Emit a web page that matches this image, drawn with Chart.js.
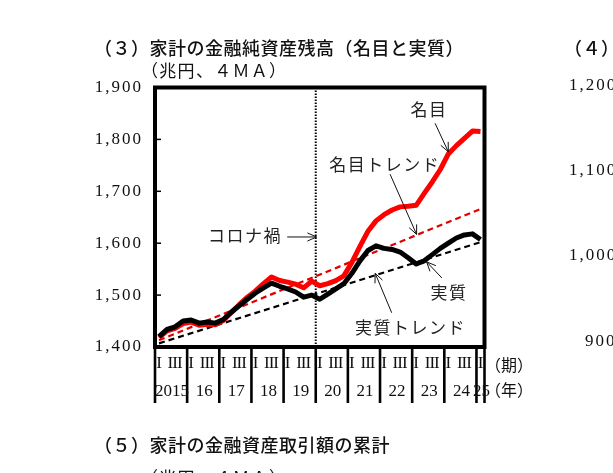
<!DOCTYPE html>
<html><head><meta charset="utf-8">
<script src="https://cdn.jsdelivr.net/npm/chart.js@4"></script>
<style>html,body{margin:0;padding:0;background:#fff;overflow:hidden}canvas{display:block}</style>
</head><body>
<canvas id="c" width="613" height="473"></canvas>
<script>
// ---- data ----
const years = ['2015','2016','2017','2018','2019','2020','2021','2022','2023','2024','2025'];
const yearLabels = ['2015','16','17','18','19','20','21','22','23','24','25'];
const quarterNames = ['Q1','Q2','Q3','Q4'];
const quarterTickLabels = ['I','','III',''];
const nQuarters = 41; // 2015Q1 - 2025Q1
const categories = [];
years.forEach(yr => quarterNames.forEach(q => { if (categories.length < nQuarters) categories.push(yr + q); }));

const nominal = [1418,1431,1436,1445,1448,1442,1444,1443,1451,1467,1482,1496,1508,1522,1535,1528,1525,1521,1514,1527,
                 1518,1522,1528,1537,1563,1594,1623,1643,1655,1664,1670,1671,1673,1696,1718,1742,1772,1788,1802,1816,1815];
const real    = [1420,1434,1439,1450,1452,1446,1448,1446,1453,1467,1480,1492,1504,1514,1523,1517,1512,1506,1496,1500,
                 1492,1502,1512,1522,1542,1566,1586,1595,1590,1588,1583,1572,1560,1566,1578,1590,1600,1610,1616,1618,1607];
const nominalTrendEnds = [1413, 1666];
const realTrendEnds    = [1407, 1602];
const yTicks = {min:1400, max:1900, step:100};
const coronaStart = '2020Q1';

// annotations in data space: [text, textIdx, textVal, fromIdx, fromVal, toIdx, toVal]
const notes = [
  ['名目',        33.5, 1857, 34.35, 1831, 36.0, 1776],
  ['名目トレンド', 28.0, 1752, 28.75, 1733, 32.05, 1617],
  ['コロナ禍',    10.6, 1614, 15.95, 1612, 19.6, 1612],
  ['実質',        36.0, 1504, 35.2, 1533, 33.3, 1564],
  ['実質トレンド', 31.2, 1438, 28.95, 1466, 26.9, 1542]
];

const CJK = '"Noto Sans CJK JP", sans-serif';
const SERIF = '"Liberation Serif", "DejaVu Serif", serif';

function arrow(ctx, x1, y1, x2, y2) {
  ctx.beginPath(); ctx.moveTo(x1, y1); ctx.lineTo(x2, y2); ctx.stroke();
  const ang = Math.atan2(y2 - y1, x2 - x1), L = 10, s = 0.42;
  ctx.beginPath();
  ctx.moveTo(x2 - L * Math.cos(ang - s), y2 - L * Math.sin(ang - s));
  ctx.lineTo(x2, y2);
  ctx.lineTo(x2 - L * Math.cos(ang + s), y2 - L * Math.sin(ang + s));
  ctx.stroke();
}

const deco = {
  id: 'deco',
  beforeDraw(chart) { chart.ctx.letterSpacing = '2px'; },
  beforeDatasetsDraw(chart) {
    const {ctx, chartArea: a, scales: {x}} = chart;
    ctx.letterSpacing = '0px';
    const ci = categories.indexOf(coronaStart);
    const w = x.getPixelForValue(1) - x.getPixelForValue(0);
    const cx = x.getPixelForValue(ci) - w / 2;
    ctx.save();
    ctx.strokeStyle = '#000'; ctx.lineWidth = 2; ctx.setLineDash([1.5, 1.5]);
    ctx.beginPath(); ctx.moveTo(cx, a.top); ctx.lineTo(cx, a.bottom); ctx.stroke();
    ctx.restore();
  },
  afterDraw(chart) {
    const {ctx, chartArea: a, scales: {x, y}} = chart;
    const px = i => x.getPixelForValue(i);
    const py = v => y.getPixelForValue(v);
    const w = px(1) - px(0);
    ctx.save();
    ctx.letterSpacing = '0px';
    ctx.strokeStyle = '#000'; ctx.fillStyle = '#111';
    // inner tick marks
    ctx.lineWidth = 1.5;
    y.ticks.forEach(t => {
      if (t.value > y.min && t.value < y.max) {
        const yy = py(t.value);
        ctx.beginPath(); ctx.moveTo(a.left, yy); ctx.lineTo(a.left + 6, yy); ctx.stroke();
      }
    });
    // frame
    ctx.lineWidth = 4;
    ctx.strokeRect(a.left, a.top, a.right - a.left, a.bottom - a.top);
    // year separators
    ctx.lineWidth = 2.6;
    const sepBottom = a.bottom + 56;
    const bounds = [];
    for (let k = 0; k < yearLabels.length; k++) bounds.push(px(4 * k) - w / 2);
    bounds.push(a.right);
    bounds.forEach(bx => { ctx.beginPath(); ctx.moveTo(bx, a.bottom); ctx.lineTo(bx, sepBottom); ctx.stroke(); });
    // quarter labels
    ctx.font = '17px ' + SERIF; ctx.textAlign = 'center'; ctx.textBaseline = 'middle';
    ctx.letterSpacing = '-1px';
    categories.forEach((c, i) => {
      const lab = quarterTickLabels[i % 4];
      if (lab) ctx.fillText(lab, px(i) - 0.5, a.bottom + 17);
    });
    ctx.letterSpacing = '0px';
    // year labels
    yearLabels.forEach((lab, k) => {
      ctx.fillText(lab, (bounds[k] + bounds[k + 1]) / 2 + 1, a.bottom + 45);
    });
    // unit labels
    ctx.font = '16px ' + CJK;
    ctx.fillText('（期）', 509, a.bottom + 18);
    ctx.fillText('（年）', 509, a.bottom + 43);
    // annotations
    ctx.font = '17px ' + CJK; ctx.fillStyle = '#222'; ctx.letterSpacing = '1.5px';
    ctx.lineWidth = 1; ctx.strokeStyle = '#111';
    notes.forEach(n => {
      ctx.fillText(n[0], px(n[1]) + 0.75, py(n[2]));
      arrow(ctx, px(n[3]), py(n[4]), px(n[5]), py(n[6]));
    });
    // titles
    ctx.letterSpacing = '0.5px';
    ctx.fillStyle = '#111'; ctx.textAlign = 'left';
    ctx.font = '500 18px ' + CJK;
    ctx.fillText('（３）家計の金融純資産残高（名目と実質）', 94, 48);
    ctx.fillText('（４）', 564, 48);
    ctx.fillText('（５）家計の金融資産取引額の累計', 94, 445);
    ctx.font = '17px ' + CJK; ctx.letterSpacing = '1.3px';
    ctx.fillText('（兆円、４ＭＡ）', 141, 71);
    ctx.fillText('（兆円、４ＭＡ）', 141, 478);
    // partial neighbour axis
    ctx.letterSpacing = '2px'; ctx.font = '17px ' + SERIF; ctx.textAlign = 'left';
    ctx.fillText('1,200', 569, 86);
    ctx.fillText('1,100', 569, 171);
    ctx.fillText('1,000', 569, 256);
    ctx.fillText('900', 585, 342);
    ctx.restore();
  }
};

new Chart(document.getElementById('c'), {
  type: 'line',
  data: {
    labels: categories,
    datasets: [
      {label: '実質', data: real, borderColor: '#000', borderWidth: 5, pointRadius: 0, tension: 0, borderJoinStyle: 'round'},
      {label: '名目', data: nominal, borderColor: '#ff0000', borderWidth: 5, pointRadius: 0, tension: 0, borderJoinStyle: 'round'},
      {label: '名目トレンド', data: [{x: categories[0], y: nominalTrendEnds[0]}, {x: categories[nQuarters - 1], y: nominalTrendEnds[1]}],
       borderColor: '#e00000', borderWidth: 2.2, borderDash: [6, 4], pointRadius: 0},
      {label: '実質トレンド', data: [{x: categories[0], y: realTrendEnds[0]}, {x: categories[nQuarters - 1], y: realTrendEnds[1]}],
       borderColor: '#000', borderWidth: 2.2, borderDash: [6, 4], pointRadius: 0}
    ]
  },
  options: {
    responsive: false, animation: false, devicePixelRatio: 1,
    layout: {padding: {left: 80, right: 128.5, top: 87.5, bottom: 126}},
    plugins: {legend: {display: false}, tooltip: {enabled: false}},
    scales: {
      x: {type: 'category', display: false, offset: true},
      y: {
        min: yTicks.min, max: yTicks.max,
        ticks: {stepSize: yTicks.step, padding: 12, color: '#111', font: {family: 'Liberation Serif', size: 17},
                callback: v => v.toLocaleString('en-US')},
        grid: {display: false, drawTicks: false},
        border: {display: false},
        afterFit: s => { s.width = 75; }
      }
    }
  },
  plugins: [deco]
});
</script>
</body></html>
